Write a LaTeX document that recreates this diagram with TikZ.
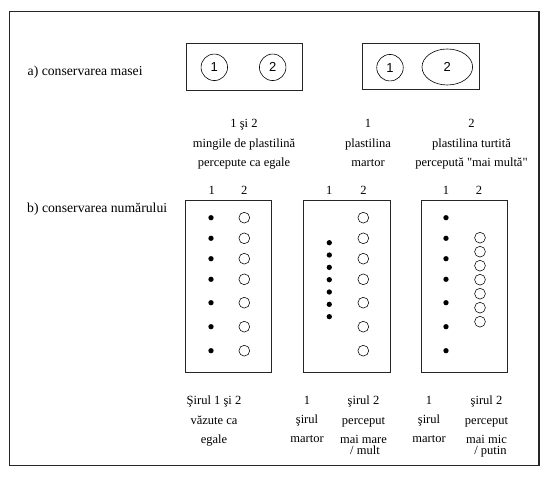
\documentclass[tikz,border=0pt]{standalone}
\usepackage{fontspec}
\setmainfont{Liberation Serif}
\newfontfamily\sansf{Liberation Sans}
\tikzset{
  frame/.style={draw=black!85, line width=1.1pt},
  box/.style={draw=black!85, line width=0.8pt},
  ball/.style={draw, circle, line width=0.6pt, inner sep=0pt, minimum size=26.5pt, font=\sansf\fontsize{13}{13}\selectfont},
  flat/.style={draw, ellipse, line width=0.6pt, inner sep=0pt, minimum width=50.6pt, minimum height=36pt, font=\sansf\fontsize{13}{13}\selectfont},
  dot/.style={fill, circle, inner sep=0pt, minimum size=5.3pt},
  ring/.style={draw, circle, line width=0.55pt, inner sep=0pt, minimum size=10.8pt},
  txt/.style={inner sep=0pt, font=\fontsize{12.5}{19.2}\selectfont},
  side/.style={inner sep=0pt, font=\fontsize{13.7}{16}\selectfont, anchor=base west},
  lbl/.style={txt, align=center, anchor=north},
  head/.style={txt}
}
\usetikzlibrary{shapes.geometric}
\begin{document}
\begin{tikzpicture}[x=1pt,y=-1pt]
\useasboundingbox (0,0) rectangle (552,481);
\draw[frame] (9.3,11.7) rectangle (539,465.7);

% a) conservarea masei
\node[side] (ta) at (27.5,75.5) {a) conservarea masei};
\node[box, minimum width=116.7pt, minimum height=46.7pt, inner sep=0pt] (m1) at (244.35,66.65) {};
\node[box, minimum width=116.7pt, minimum height=46pt, inner sep=0pt] (m2) at (420.65,66.3) {};
\node[ball] (m1a) at (214.3,67.3) {1};
\node[ball] (m1b) at (272.7,67.3) {2};
\node[ball] (m2a) at (390,67.7) {1};
\node[flat] (m2b) at (447.3,67) {2};

\node[lbl, font=\fontsize{12.5}{19.3}\selectfont] (l1) at (244,119.5) {1 şi 2\\mingile de plastilină\\percepute ca egale};
\node[lbl, font=\fontsize{12.5}{19.3}\selectfont] (l2) at (368,119.5) {1\\plastilina\\martor};
\node[lbl, font=\fontsize{12.5}{19.3}\selectfont] (l3) at (471.5,119.5) {2\\plastilina turtită\\percepută \textquotedbl mai multă\textquotedbl};

% b) conservarea numarului
\node[side] (tb) at (27,212.5) {b) conservarea numărului};

\node[box, minimum width=86pt, minimum height=172pt, inner sep=0pt] (bA) at (228.7,286) {};
\node[box, minimum width=86.3pt, minimum height=172pt, inner sep=0pt] (bB) at (346.85,286) {};
\node[box, minimum width=86pt, minimum height=172pt, inner sep=0pt] (bC) at (464.7,286) {};

\node[head] (hA1) at (211.7,190.7) {1};
\node[head] (hA2) at (244.3,190.7) {2};
\node[head] (hB1) at (329.3,190.7) {1};
\node[head] (hB2) at (363.5,190.7) {2};
\node[head] (hC1) at (446,190.7) {1};
\node[head] (hC2) at (479,190.7) {2};

\foreach \y [count=\i] in {217.7,238.3,258.7,279.3,302.7,326.7,350.7} {
  \node[dot] (dA\i) at (211,\y) {};
  \node[ring] (rA\i) at (244.3,\y) {};
  \node[ring] (rB\i) at (363.3,\y) {};
  \node[dot] (dC\i) at (446,\y) {};
}
\foreach \i in {1,...,7} {
  \node[dot] (dB\i) at (329.3,{242.7+12.33*(\i-1)}) {};
  \node[ring] (rC\i) at (480,{237.7+14*(\i-1)}) {};
}

% bottom labels
\node[lbl] (bl1) at (214,396) {Şirul 1 şi 2\\văzute ca\\egale};
\node[lbl] (bl2) at (307,396) {1\\şirul\\martor};
\node[lbl] (bl3) at (363.5,396) {şirul 2\\perceput\\mai mare\\[-8pt]\hspace{3pt}/ mult};
\node[lbl] (bl4) at (429,396) {1\\şirul\\martor};
\node[lbl] (bl5) at (486.5,396) {şirul 2\\perceput\\mai mic\\[-8pt]\hspace{8pt}/ putin};
\end{tikzpicture}
\end{document}
